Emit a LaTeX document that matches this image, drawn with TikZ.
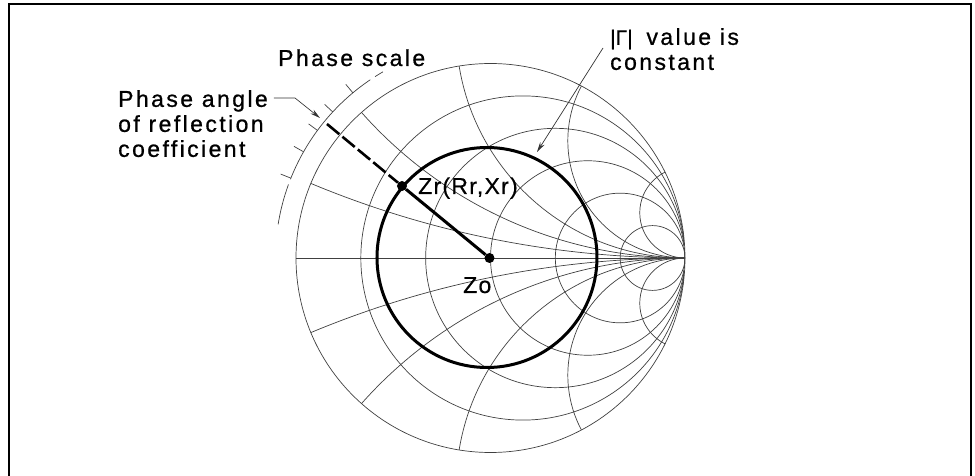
\documentclass[tikz,border=0pt]{standalone}
\usepackage{fontspec}
\usetikzlibrary{arrows.meta, positioning}
\newfontfamily\lblfont[LetterSpace=10.5,FakeBold=0.8]{Liberation Sans}
\newfontfamily\gamfont[FakeBold=0.8]{Liberation Sans}
\newfontfamily\ptfont[LetterSpace=5.5,FakeBold=0.5]{Liberation Sans}
\begin{document}
\begin{tikzpicture}[
  x=1pt, y=1pt,
  grid/.style={line width=0.7pt, black!75},
  heavy/.style={line width=3pt, black},
  lead/.style={line width=0.7pt, black!80, -{Stealth[length=10pt, width=5pt]}},
  lbl/.style={inner sep=0pt, align=left, font=\lblfont\fontsize{23}{25}\selectfont},
  pt/.style={inner sep=0pt, font=\ptfont\fontsize{23}{25}\selectfont},
  dot/.style={circle, fill=black, inner sep=0pt, minimum size=10pt}]
  \def\Rc{194.5}
  \useasboundingbox (-490.5,-218) rectangle (484.5,258);
  \draw[line width=2pt] (-481.5,-218) -- (-481.5,254) -- (480.5,254) -- (480.5,-218);
  \begin{scope}
    \clip (0,0) circle[radius=\Rc];
    \foreach \rr in {0.2,0.5,1,2,5}
      \draw[grid] ({\Rc*\rr/(1+\rr)},0) circle[radius={\Rc/(1+\rr)}];
    \foreach \xr in {0.2,0.45,0.85,1.66,4.3} {
      \draw[grid] (\Rc,{\Rc/\xr}) circle[radius={\Rc/\xr}];
      \draw[grid] (\Rc,{-\Rc/\xr}) circle[radius={\Rc/\xr}];
    }
  \end{scope}
  \draw[grid] (0,0) circle[radius=\Rc];
  \draw[grid] (-\Rc,0) -- (\Rc,0);
  \draw[grid] (171:215) arc[start angle=171, end angle=160, radius=215];
  \draw[grid] (158.5:215) arc[start angle=158.5, end angle=124, radius=215];
  \draw[grid] (122.5:215) arc[start angle=122.5, end angle=120, radius=215];
  \foreach \ang in {129.8,137.2,143.6,150.4,158.2}
    \draw[grid] (\ang:215) -- (\ang:226);
  \draw[heavy] (-3.5,0.5) circle[radius=110];
  \node[dot] (zo) at (-1,0) {};
  \node[dot] (zr) at (-88.5,72) {};
  \coordinate (phase) at (-163.5,134);
  \draw[heavy] (zo) -- (zr);
  \draw[line width=2.6pt, dash pattern=on 16pt off 4pt] (phase) -- (zr);
  \node[lbl, anchor=base west] (scalelbl) at (-212.5,192) {Phase scale};
  \node[lbl, anchor=north west] (anglelbl) at (-372.5,168) {Phase angle\\of reflection\\coefficient};
  \node[lbl, anchor=north west] (gammalbl) at (119.5,230) {{\gamfont\fontsize{21}{25}\selectfont|Γ|}\hspace{5pt} value is\\constant};
  \node[pt, anchor=base west] (zrlbl) at (-72.5,64) {Zr(Rr,Xr)};
  \node[pt, anchor=base west] (zolbl) at (-27.5,-35) {Zo};
  \coordinate (leadstart) at (-216.5,160);
  \coordinate (leadbend) at (-195.5,160);
  \coordinate (leadend) at (-170.5,140);
  \coordinate (gammastart) at (112.5,210);
  \coordinate (gammaend) at (46.5,106);
  \draw[lead] (leadstart) -- (leadbend) -- (leadend);
  \draw[lead] (gammastart) -- (gammaend);
\end{tikzpicture}
\end{document}
